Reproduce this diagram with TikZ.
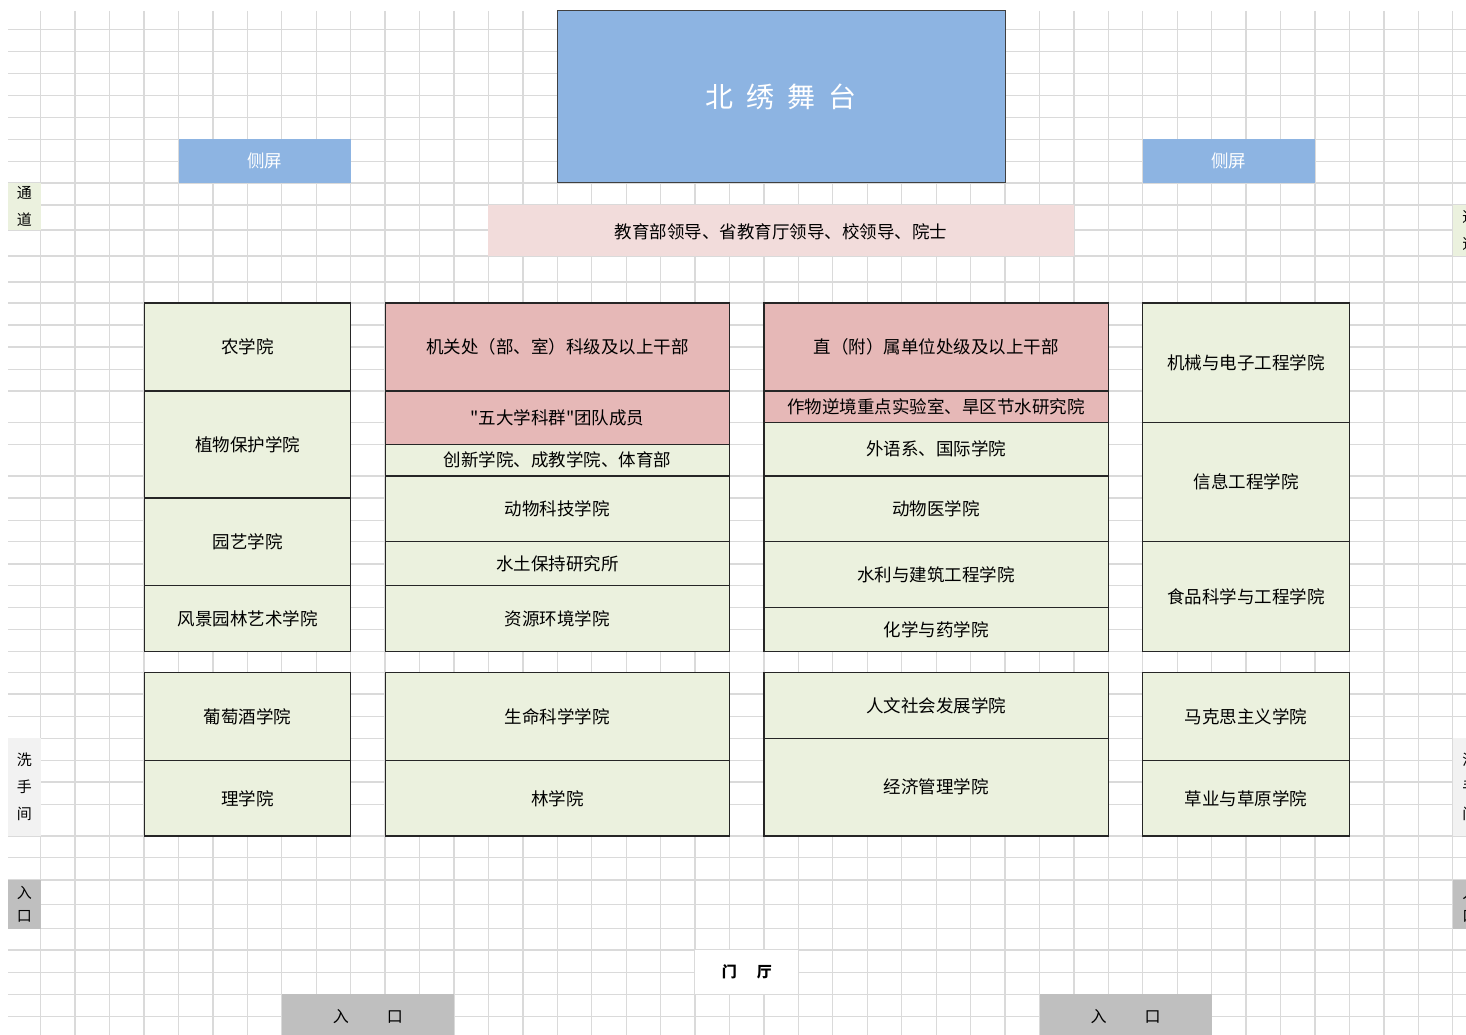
\documentclass[tikz,border=0pt]{standalone}
\usepackage{fontspec}
\setmainfont{Noto Sans CJK SC}[Ligatures=TeXOff]
\definecolor{stageblue}{RGB}{141, 180, 226}
\definecolor{guestpink}{RGB}{242, 220, 219}
\definecolor{cadrepink}{RGB}{230, 184, 183}
\definecolor{seatgreen}{RGB}{235, 241, 222}
\definecolor{gridgrey}{RGB}{218, 218, 218}
\definecolor{roomgrey}{RGB}{242, 242, 242}
\definecolor{doorgrey}{RGB}{191, 191, 191}
\tikzset{%
    gridline/.style={draw=gridgrey, line width=1.3pt},
    seat/.style={draw=black!85, line width=1.2pt},
    college/.style={seat, fill=seatgreen},
    cadre/.style={seat, fill=cadrepink},
    seattext/.style={font=\fontsize{17.5}{20}\selectfont, text=black},
    screentext/.style={font=\fontsize{17.5}{20}\selectfont, text=white},
    sidetext/.style={align=center, inner sep=0pt, text=black}
}

\begin{document}
\begin{tikzpicture}[x={(1pt,0)}, y={(0,-1pt)}]

    \useasboundingbox (0, 0) rectangle (1466, 1035);
    \clip (0, 0) rectangle (1466, 1035);
    \fill[white] (0, 0) rectangle (1466, 1035);

    % Sheet grid
    \foreach \n in {0, ..., 41}{%
        \draw[gridline] ({40.7 + 34.44*\n}, 11) -- ++(0, 1030);
    };
    \foreach \y in {29.3, 51.7, 73.3, 95.3, 117.3, 139.3, 161.3, 183, 205,
                    230, 256, 282, 303, 325, 347, 369.5, 391, 422.3, 444.5,
                    476, 498, 520.3, 541.7, 564, 585.4, 607.5, 629.3, 651.2,
                    672.6, 694, 716.2, 738.4, 760.6, 782.1, 804.2, 836,
                    857.6, 880, 904.3, 928.5, 950, 972.3, 994.3, 1016.3}{%
        \draw[gridline] (8, \y) -- (1466, \y);
    };

    % Stage and screens
    \draw[fill=stageblue, draw=black!75, line width=1pt]
        (557.2, 11) rectangle (1005, 183)
        node[midway, text=white, font=\fontsize{28}{30}\selectfont] (stage)
        {北\hspace{13pt}绣\hspace{13pt}舞\hspace{13pt}台};

    \fill[stageblue] (178.7, 139.3) rectangle (350.7, 183)
        node[midway, screentext] (screen-l) {侧屏};
    \fill[stageblue] (1142.7, 139.3) rectangle (1315, 183)
        node[midway, screentext] (screen-r) {侧屏};

    \fill[guestpink] (488.4, 205) rectangle (1073.9, 256)
        node[midway, seattext, yshift=-1pt] (guests)
        {教育部领导、省教育厅领导、校领导、院士};

    % Side rooms
    \fill[seatgreen] (8, 183) rectangle (40.7, 230)
        node[midway, sidetext, font=\fontsize{15}{27}\selectfont] (aisle-l)
        {通\\道};
    \fill[roomgrey] (8, 738.4) rectangle (40.7, 836)
        node[midway, sidetext, font=\fontsize{15}{27}\selectfont] (wc-l)
        {洗\\手\\间};
    \fill[doorgrey] (8, 880) rectangle (40.7, 928.5)
        node[midway, sidetext, font=\fontsize{15}{22.5}\selectfont] (door-l)
        {入\\口};

    \fill[seatgreen] (1452.7, 205) rectangle (1487.1, 256)
        node[midway, sidetext, font=\fontsize{15}{27}\selectfont] (aisle-r)
        {通\\道};
    \fill[roomgrey] (1452.7, 738.4) rectangle (1487.1, 836)
        node[midway, sidetext, font=\fontsize{15}{27}\selectfont] (wc-r)
        {洗\\手\\间};
    \fill[doorgrey] (1452.7, 880) rectangle (1487.1, 928.5)
        node[midway, sidetext, font=\fontsize{15}{22.5}\selectfont] (door-r)
        {入\\口};

    % Column A
    \draw[college] (144.3, 303) rectangle (350.7, 391)
        node[midway, seattext] (nong) {农学院};
    \draw[college] (144.3, 391) rectangle (350.7, 498)
        node[midway, seattext] (zhibao) {植物保护学院};
    \draw[college] (144.3, 498) rectangle (350.7, 585.4)
        node[midway, seattext] (yuanyi) {园艺学院};
    \draw[college] (144.3, 585.4) rectangle (350.7, 651.2)
        node[midway, seattext] (fengjing) {风景园林艺术学院};
    \draw[college] (144.3, 672.6) rectangle (350.7, 760.6)
        node[midway, seattext] (putao) {葡萄酒学院};
    \draw[college] (144.3, 760.6) rectangle (350.7, 836)
        node[midway, seattext] (li) {理学院};

    % Column B
    \draw[cadre] (385.3, 303) rectangle (729.5, 391)
        node[midway, seattext] (jiguan) {机关处（部、室）科级及以上干部};
    \draw[cadre] (385.3, 391) rectangle (729.5, 444.5)
        node[midway, seattext] (wuda) {"五大学科群"团队成员};
    \draw[college] (385.3, 444.5) rectangle (729.5, 476)
        node[midway, seattext] (chuangxin) {创新学院、成教学院、体育部};
    \draw[college] (385.3, 476) rectangle (729.5, 541.7)
        node[midway, seattext] (dongke) {动物科技学院};
    \draw[college] (385.3, 541.7) rectangle (729.5, 585.4)
        node[midway, seattext] (shuitu) {水土保持研究所};
    \draw[college] (385.3, 585.4) rectangle (729.5, 651.2)
        node[midway, seattext] (ziyuan) {资源环境学院};
    \draw[college] (385.3, 672.6) rectangle (729.5, 760.6)
        node[midway, seattext] (shengming) {生命科学学院};
    \draw[college] (385.3, 760.6) rectangle (729.5, 836)
        node[midway, seattext] (lin) {林学院};

    % Column C
    \draw[cadre] (764, 303) rectangle (1108.3, 391)
        node[midway, seattext] (zhishu) {直（附）属单位处级及以上干部};
    \draw[cadre] (764, 391) rectangle (1108.3, 422.3)
        node[midway, seattext] (zuowu) {作物逆境重点实验室、旱区节水研究院};
    \draw[college] (764, 422.3) rectangle (1108.3, 476)
        node[midway, seattext] (waiyu) {外语系、国际学院};
    \draw[college] (764, 476) rectangle (1108.3, 541.7)
        node[midway, seattext] (dongyi) {动物医学院};
    \draw[college] (764, 541.7) rectangle (1108.3, 607.5)
        node[midway, seattext] (shuili) {水利与建筑工程学院};
    \draw[college] (764, 607.5) rectangle (1108.3, 651.2)
        node[midway, seattext] (huaxue) {化学与药学院};
    \draw[college] (764, 672.6) rectangle (1108.3, 738.4)
        node[midway, seattext] (renwen) {人文社会发展学院};
    \draw[college] (764, 738.4) rectangle (1108.3, 836)
        node[midway, seattext] (jingguan) {经济管理学院};

    % Column D
    \draw[college] (1142.7, 303) rectangle (1349.3, 422.3)
        node[midway, seattext] (jidian) {机械与电子工程学院};
    \draw[college] (1142.7, 422.3) rectangle (1349.3, 541.7)
        node[midway, seattext] (xinxi) {信息工程学院};
    \draw[college] (1142.7, 541.7) rectangle (1349.3, 651.2)
        node[midway, seattext] (shipin) {食品科学与工程学院};
    \draw[college] (1142.7, 672.6) rectangle (1349.3, 760.6)
        node[midway, seattext] (makesi) {马克思主义学院};
    \draw[college] (1142.7, 760.6) rectangle (1349.3, 836)
        node[midway, seattext] (caoye) {草业与草原学院};

    % Hall and entrances
    \fill[white] (695.1, 950) rectangle (798.4, 994.3)
        node[midway, text=black, font=\bfseries\fontsize{15}{18}\selectfont] (hall)
        {门\hspace{20pt}厅};

    \fill[doorgrey] (281.8, 994.3) rectangle (454, 1038)
        node[pos=0.5, text=black, font=\fontsize{16}{18}\selectfont] (door-a)
        {入\hspace{38pt}口};
    \fill[doorgrey] (1039.5, 994.3) rectangle (1211.7, 1038)
        node[pos=0.5, text=black, font=\fontsize{16}{18}\selectfont] (door-b)
        {入\hspace{38pt}口};

\end{tikzpicture}
\end{document}
